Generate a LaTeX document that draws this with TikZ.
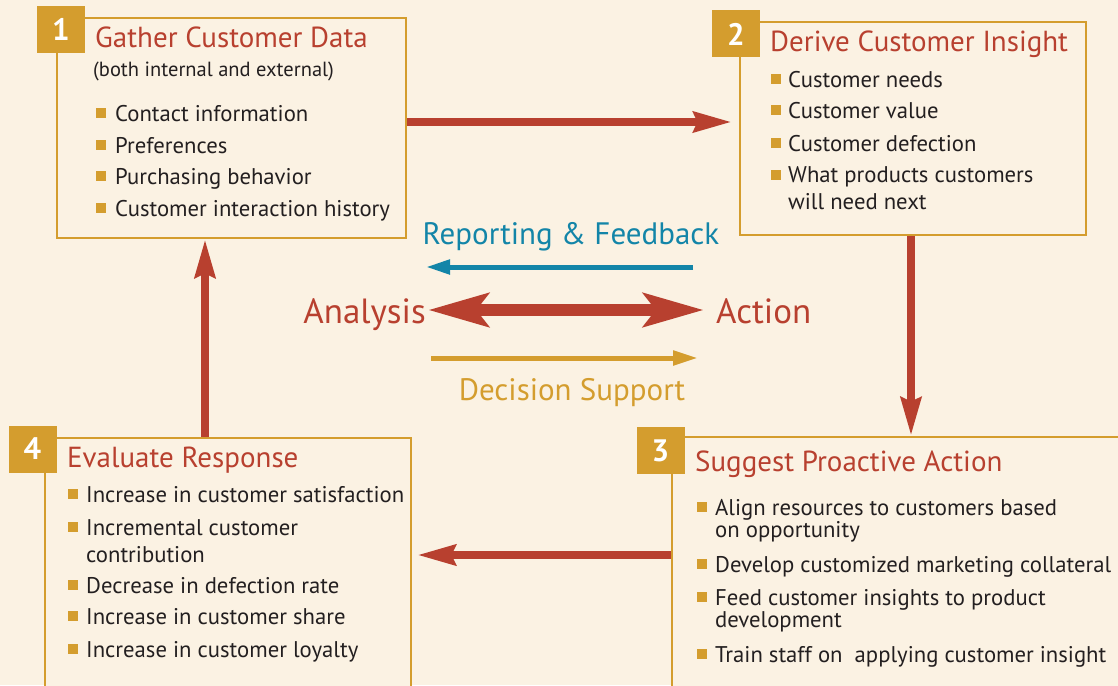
\documentclass[tikz,border=0pt]{standalone}
\usepackage{fontspec}
\setmainfont{PT Sans}
\usepackage{xcolor}
\usetikzlibrary{arrows.meta}
\definecolor{cream}{HTML}{FBF2E3}
\definecolor{gold}{HTML}{D49D2E}
\definecolor{brick}{HTML}{B8402F}
\definecolor{fbblue}{HTML}{1385A8}
\definecolor{ink}{HTML}{231F20}
\tikzset{
  box/.style={draw=gold, line width=2.5pt, fill=cream, inner sep=0},
  badge/.style={fill=gold, text=white, font=\bfseries\fontsize{31}{31}\selectfont,
    minimum width=48pt, minimum height=47pt, inner sep=0},
  ttl/.style={anchor=base west, inner sep=0, text=brick, font=\fontsize{29}{29}\selectfont},
  itm/.style={anchor=base west, inner sep=0, text=ink, align=left, font=\fontsize{22.7}{27}\selectfont},
  sq/.style={fill=gold, minimum size=10pt, inner sep=0, anchor=south west},
  flow/.style={brick, line width=8pt, -{Stealth[length=38pt,width=20pt,inset=4pt]}},
  midtxt/.style={inner sep=0, font=\fontsize{31}{31}\selectfont},
}

\begin{document}
\begin{tikzpicture}[x=1pt,y=-1pt]
\useasboundingbox (0,0) rectangle (1118,685);
\clip (0,0) rectangle (1118,685);
\fill[cream] (0,0) rectangle (1118,685);

% the four boxes
\node[box, minimum width=349pt, minimum height=220pt] (gather) at (231.5,128) {};
\node[box, minimum width=346pt, minimum height=213pt] (derive) at (913,128.5) {};
\node[box, minimum width=468pt, minimum height=283pt] (suggest) at (906,578.5) {};
\node[box, minimum width=366pt, minimum height=282pt] (evaluate) at (228,579) {};
\node[badge] (n1) at (61,29.5) {1};
\node[badge] (n2) at (736,34) {2};
\node[badge] (n3) at (660.5,450.5) {3};
\node[badge] (n4) at (32.5,449) {4};

% box 1
\node[ttl] (t1) at (95,48) {Gather Customer Data};
\node[anchor=base west, inner sep=0, text=ink, font=\fontsize{20.5}{20.5}\selectfont] (t1s) at (93,77) {(both internal and external)};
\foreach \yy/\txt [count=\i] in {121/Contact information,153/Preferences,
    184/Purchasing behavior,216/Customer interaction history}{
  \node[sq] (q1-\i) at (96,\yy-3) {};
  \node[itm] (i1-\i) at (115,\yy) {\txt};
}

% box 2 (second field: baseline of the last line)
\node[ttl] (t2) at (770,52) {Derive Customer Insight};
\foreach \yy/\ly/\txt [count=\i] in {87/87/Customer needs,118/118/Customer value,
    151/151/Customer defection,183/209/{What products customers\\will need next}}{
  \node[sq] (q2-\i) at (771,\yy-3) {};
  \node[itm] (i2-\i) at (788,\ly) {\txt};
}

% box 3
\node[ttl] (t3) at (695,471) {Suggest Proactive Action};
\foreach \yy/\ly/\txt [count=\i] in {515/537/{Align resources to customers based\\on opportunity},
    572/572/Develop customized marketing collateral,
    605/627/{Feed customer insights to product\\development},
    662/662/Train staff on\ \ applying customer insight}{
  \node[sq] (q3-\i) at (697,\yy-3) {};
  \node[itm, font=\fontsize{22.7}{22}\selectfont] (i3-\i) at (715,\ly) {\txt};
}

% box 4
\node[ttl] (t4) at (67,467) {Evaluate Response};
\foreach \yy/\ly/\txt [count=\i] in {502/502/Increase in customer satisfaction,
    535/562/{Incremental customer\\contribution},593/593/Decrease in defection rate,
    624/624/Increase in customer share,657/657/Increase in customer loyalty}{
  \node[sq] (q4-\i) at (68,\yy-3) {};
  \node[itm] (i4-\i) at (86,\ly) {\txt};
}

% cycle arrows
\draw[flow] ([yshift=6pt]gather.east) -- ([xshift=-7pt,yshift=6pt]gather.east -| derive.west);
\draw[flow] ([xshift=-2pt]derive.south) -- ([xshift=-2pt]derive.south |- suggest.north);
\draw[flow] ([yshift=23.5pt]suggest.west) -- ([xshift=5pt,yshift=23.5pt]suggest.west -| evaluate.east);
\draw[flow] ([xshift=-23pt]evaluate.north) -- ([xshift=-23pt]evaluate.north |- gather.south);

% middle
\node[midtxt, anchor=base, text=fbblue] (rep) at (571,244) {Reporting \& Feedback};
\coordinate (rp1) at (693,267);
\coordinate (rp2) at (426,267);
\draw[fbblue, line width=5pt, -{Triangle[length=24pt,width=14pt]}] (rp1) -- (rp2);

\node[inner sep=0, anchor=base east, text=brick, font=\fontsize{35}{35}\selectfont] (anl) at (426,323) {Analysis};
\node[inner sep=0, anchor=base west, text=brick, font=\fontsize{35}{35}\selectfont] (act) at (716,323) {Action};
\draw[brick, line width=12pt, {Stealth[length=60pt,width=33pt,inset=12pt]}-{Stealth[length=60pt,width=33pt,inset=12pt]}]
  ([xshift=2pt,yshift=13pt]anl.base east) -- ([xshift=-12pt,yshift=13pt]act.base west);

\coordinate (ds1) at (431,358);
\coordinate (ds2) at (698,358);
\draw[gold, line width=5pt, -{Triangle[length=25pt,width=14pt]}] (ds1) -- (ds2);
\node[midtxt, anchor=base, text=gold] (dec) at (572,400) {Decision Support};
\end{tikzpicture}
\end{document}
